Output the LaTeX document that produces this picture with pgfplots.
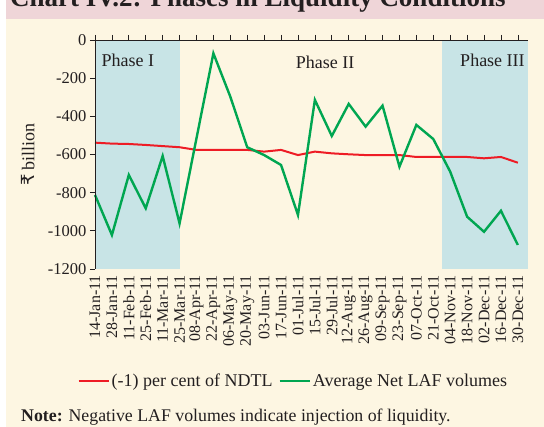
\documentclass[border=0pt]{standalone}
\usepackage{fontspec}
\setmainfont{Liberation Serif}
\newfontfamily\dejavu{DejaVu Sans}
\usepackage{pgfplots}
\usepackage{pgfplotstable}
\pgfplotsset{compat=1.18}
\definecolor{cream}{HTML}{FDF6E2}
\definecolor{pinkband}{HTML}{EFD5D8}
\definecolor{shade}{HTML}{C8E4E6}
\definecolor{redl}{HTML}{EE1C25}
\definecolor{greenl}{HTML}{00A651}
\definecolor{txt}{HTML}{231F20}

\pgfplotstableread{
idx ndtl laf
0 -538 -812
1 -543 -1022
2 -545 -707
3 -550 -882
4 -556 -608
5 -562 -961
6 -576 -515
7 -576 -70
8 -576 -297
9 -576 -562
10 -585 -603
11 -576 -655
12 -603 -917
13 -585 -314
14 -594 -503
15 -599 -335
16 -603 -454
17 -603 -344
18 -603 -664
19 -613 -445
20 -613 -519
21 -613 -690
22 -613 -926
23 -620 -1005
24 -613 -895
25 -643 -1074
}\datatable

\begin{document}
\begin{tikzpicture}[x=1pt,y=1pt]
\fill[white] (0,0) rectangle (544,427);
\fill[cream] (6,0) rectangle (544,427);
\fill[pinkband] (6,408) rectangle (544,445);
\node[anchor=base west, font=\fontsize{27}{30}\selectfont\bfseries, text=txt, inner sep=0] at (10,420) {Chart IV.2: Phases in Liquidity Conditions};
\begin{axis}[
  at={(95pt,158pt)}, anchor=south west,
  width=433pt, height=229pt, scale only axis,
  xmin=0, xmax=25.6, ymin=-1200, ymax=0,
  axis lines*=left,
  x axis line style={draw=none},
  xtick style={draw=none},
  axis on top,
  axis line style={color=txt, line width=0.7pt},
  tick style={color=txt, line width=0.7pt},
  major tick length=5pt,
  tick align=outside,
  xtick={0,...,25},
  xticklabels={14-Jan-11,28-Jan-11,11-Feb-11,25-Feb-11,11-Mar-11,25-Mar-11,08-Apr-11,22-Apr-11,06-May-11,20-May-11,03-Jun-11,17-Jun-11,01-Jul-11,15-Jul-11,29-Jul-11,12-Aug-11,26-Aug-11,09-Sep-11,23-Sep-11,07-Oct-11,21-Oct-11,04-Nov-11,18-Nov-11,02-Dec-11,16-Dec-11,30-Dec-11},
  xticklabel style={rotate=90, anchor=east, font=\fontsize{16}{17}\selectfont, text=txt, inner sep=1pt},
  ytick={-1200,-1000,-800,-600,-400,-200,0},
  yticklabels={-1200,-1000,-800,-600,-400,-200,0},
  yticklabel style={font=\fontsize{16.5}{18}\selectfont, text=txt},
  ylabel={{\dejavu ₹} billion},
  ylabel style={at={(axis description cs:-0.155,0.5)}, anchor=center, rotate=0, font=\fontsize{18}{20}\selectfont, text=txt},
  legend style={at={(axis description cs:0.458,-0.489)}, anchor=center, draw=none, fill=none, font=\fontsize{18}{20}\selectfont, text=txt, legend columns=2, /tikz/every even column/.append style={column sep=4pt}},
  legend image code/.code={\draw[#1] (0pt,0pt) -- (30pt,0pt);},
  clip=false,
]
\addplot[fill=shade, draw=none, forget plot] coordinates {(0,-1200) (5.03,-1200) (5.03,0) (0,0)} -- cycle;
\addplot[fill=shade, draw=none, forget plot] coordinates {(20.5,-1200) (25.6,-1200) (25.6,0) (20.5,0)} -- cycle;
\addplot[redl, line width=2pt] table[x=idx, y=ndtl] {\datatable};
\addlegendentry{(-1) per cent of NDTL}
\addplot[greenl, line width=2.4pt] table[x=idx, y=laf] {\datatable};
\addlegendentry{Average Net LAF volumes}
\node[font=\fontsize{18}{20}\selectfont, text=txt] at (axis cs:1.95,-108) {Phase I};
\node[font=\fontsize{18}{20}\selectfont, text=txt] at (axis cs:13.6,-115) {Phase II};
\node[font=\fontsize{18}{20}\selectfont, text=txt] at (axis cs:23.5,-105) {Phase III};
\end{axis}
\begin{axis}[
  at={(95pt,158pt)}, anchor=south west,
  width=433pt, height=229pt, scale only axis,
  xmin=0, xmax=25.6, ymin=-1200, ymax=0,
  axis x line*=top, axis y line=none,
  axis line style={color=txt, line width=0.7pt},
  tick style={color=txt, line width=0.7pt},
  major tick length=5pt,
  tick align=outside,
  xtick={0,...,25},
  xticklabels={},
  ytick=\empty,
]
\end{axis}
\node[anchor=base west, font=\fontsize{17.8}{20}\selectfont, text=txt, inner sep=0] at (21,5) {\textbf{Note:} Negative LAF volumes indicate injection of liquidity.};
\pgfresetboundingbox
\useasboundingbox (0,0) rectangle (544,427);
\end{tikzpicture}
\end{document}
